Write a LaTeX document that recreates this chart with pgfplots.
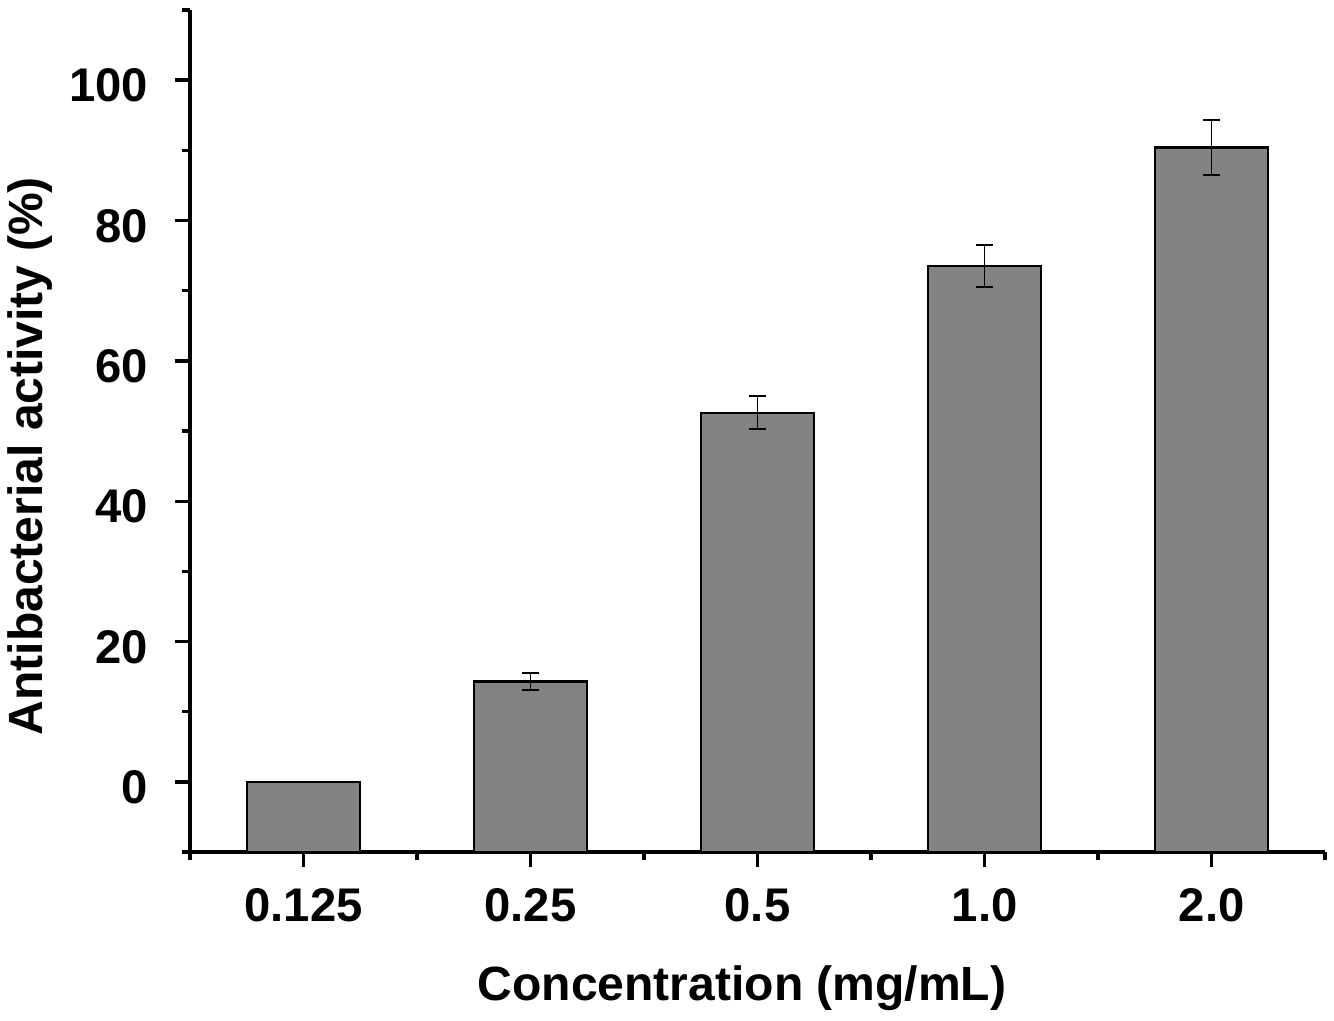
\documentclass[border=0pt]{standalone}
\usepackage{pgfplots}
\pgfplotsset{compat=1.18}
\usepackage{pgfplotstable}
\usepackage{fontspec}
\setmainfont{Liberation Sans}
\definecolor{barfill}{RGB}{131,131,131}
\pgfplotstableread{
x y e
0 0 0
1 14.3 1.25
2 52.6 2.35
3 73.5 3.0
4 90.4 3.9
}\datatable
\begin{document}
\begin{tikzpicture}
\begin{axis}[
  scale only axis,
  width=408.6pt, height=303.1pt,
  xmin=-0.5, xmax=4.5,
  ymin=-10, ymax=110,
  y coord trafo/.code={\pgfmathparse{#1+10}},
  y coord inv trafo/.code={\pgfmathparse{#1-10}},
  axis lines*=left,
  axis line style={line width=1.2pt, black},
  tick align=outside,
  major tick length=5.5pt,
  minor tick length=3pt,
  every tick/.style={line width=1.2pt, black},
  xtick={0,1,2,3,4},
  xticklabels={0.125,0.25,0.5,1.0,2.0},
  minor xtick={-0.5,0.5,1.5,2.5,3.5,4.5},
  ytick={0,20,40,60,80,100},
  minor ytick={-10,10,30,50,70,90,110},
  /pgf/number format/assume math mode=true,
  tick label style={font=\fontsize{17}{20}\selectfont\bfseries},
  yticklabel style={anchor=east, inner sep=0pt, xshift=-9.4pt, yshift=-2pt},
  xticklabel style={anchor=north, inner sep=0pt, yshift=-7.6pt},
  xlabel={Concentration (mg/mL)},
  ylabel={Antibacterial activity (\%)},
  label style={font=\fontsize{17.3}{20}\selectfont\bfseries},
  xlabel style={at={([xshift=-5.6pt]rel axis cs:0.5,0)}, anchor=north, inner sep=0pt, yshift=-40.7pt},
  ylabel style={at={([xshift=-65.9pt]rel axis cs:0,0.47)}, anchor=north, inner sep=0pt},
  clip=false,
]
\addplot[ybar, bar width=0.5, fill=barfill, draw=black, line width=0.75pt,
  error bars/.cd, y dir=both, y explicit,
  error bar style={line width=0.6pt, black},
  error mark options={rotate=90, mark size=3pt, line width=0.6pt, black}]
  table[x=x, y=y, y error=e] {\datatable};
\coordinate (SW) at (rel axis cs:0,0);
\coordinate (NE) at (rel axis cs:1,1);
\end{axis}
\pgfresetboundingbox
\path[use as bounding box] ([xshift=-68.4pt,yshift=-60.5pt]SW) rectangle ([xshift=3.2pt,yshift=3.6pt]NE);
\end{tikzpicture}
\end{document}
